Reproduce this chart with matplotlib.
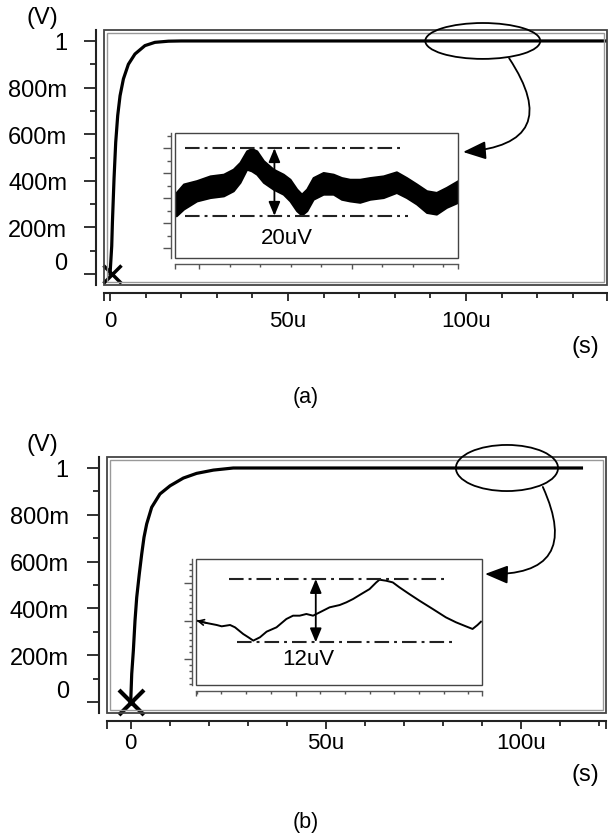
import matplotlib
matplotlib.use('Agg')
import matplotlib.pyplot as plt
from matplotlib.patches import Ellipse, Rectangle
from matplotlib.ticker import FixedLocator, MultipleLocator

plt.rcParams['font.family'] = ['Liberation Sans', 'DejaVu Sans']

W, H = 608, 837

# step response (a): time in us, output in V
t_a = [0, 0.47, 0.66, 1.12, 1.59, 2.15, 2.81, 3.75, 5.15, 7.0, 9.8, 12.6, 16.4, 20, 140]
v_a = [0, 0.12, 0.22, 0.41, 0.565, 0.68, 0.765, 0.837, 0.90, 0.944, 0.98, 0.994, 0.999, 1.0, 1.0]
start_a = (0.5, 0.0)

# step response (b)
t_b = [0, 0.26, 0.68, 1.1, 1.54, 2.2, 2.82, 3.41, 4.1, 5.38, 7.5, 10.1, 13.5, 16.9, 21.2, 26.3, 115.6]
v_b = [0, 0.12, 0.22, 0.347, 0.447, 0.547, 0.632, 0.704, 0.761, 0.832, 0.889, 0.924, 0.957, 0.977, 0.991, 1.0, 1.0]
start_b = (0.0, 0.0)

yticks_main = [0, 0.2, 0.4, 0.6, 0.8, 1.0]
ylabels_main = ['0', '200m', '400m', '600m', '800m', '1']
xticks_main = [0, 50, 100]
xlabels_main = ['0', '50u', '100u']

# zoomed ripple (a): upper / lower edge of the noisy band, uV
zx_a = [-0.76, -0.52, -0.09, 0.35, 0.79, 1.11, 1.33, 1.55, 1.71, 1.88, 2.10, 2.42, 2.75, 2.97,
        3.19, 3.35, 3.52, 3.73, 4.06, 4.39, 4.66, 4.93, 5.26, 5.59, 6.03, 6.46, 6.79, 7.12,
        7.45, 7.77, 8.10, 8.48]
zhi_a = [6.9, 9.4, 10.4, 11.8, 12.3, 13.8, 15.8, 19.2, 19.9, 19.2, 16.3, 13.8, 12.3, 10.8,
         7.9, 6.4, 7.9, 11.3, 12.8, 12.3, 11.3, 10.8, 10.8, 11.3, 11.8, 13.0, 11.3, 9.4,
         7.4, 6.9, 8.4, 10.4]
zlo_a = [0.0, 2.0, 4.4, 5.4, 5.9, 7.4, 9.9, 13.8, 13.3, 12.3, 9.9, 7.9, 6.4, 4.4,
         1.5, 0.2, 1.5, 4.9, 6.4, 6.4, 4.9, 4.4, 4.0, 4.9, 5.4, 6.9, 5.4, 3.5,
         0.99, 0.5, 2.5, 4.0]
ripple_a = 20

# zoomed ripple (b), uV
zx_b = [0, 0.40, 0.81, 1.01, 1.35, 1.55, 1.88, 2.09, 2.29, 2.56, 2.83, 3.23, 3.63, 3.90,
        4.17, 4.44, 4.71, 4.98, 5.38, 5.79, 6.06, 6.33, 6.66, 7.0, 7.27, 7.40, 7.67, 7.94,
        8.21, 8.61, 9.02, 9.56, 10.09, 10.50, 10.90, 11.17, 11.37, 11.51]
zv_b = [4.1, 3.66, 3.28, 3.03, 3.28, 2.84, 1.58, 0.95, 0.32, 0.95, 2.02, 2.84, 4.42, 5.05,
        5.05, 5.37, 5.05, 5.68, 6.63, 7.07, 7.58, 8.21, 9.15, 10.1, 11.36, 11.87, 11.68, 11.36,
        10.42, 9.15, 7.89, 6.31, 4.73, 3.79, 3.03, 2.53, 3.28, 3.91]
ripple_b = 12

fig = plt.figure(figsize=(W / 100, H / 100), dpi=100)


def px_box(l, t, r, b):
    return [l / W, 1 - b / H, (r - l) / W, (b - t) / H]


def frame(ax, box, lw_out, lw_in, gap_px):
    ax.add_patch(Rectangle((0, 0), 1, 1, transform=ax.transAxes, fill=False,
                           lw=lw_out, ec='#444', clip_on=False, zorder=4))
    if lw_in:
        dx = gap_px / (box[2] * W)
        dy = gap_px / (box[3] * H)
        ax.add_patch(Rectangle((dx, dy), 1 - 2 * dx, 1 - 2 * dy, transform=ax.transAxes,
                               fill=False, lw=lw_in, ec='#999', clip_on=False, zorder=4))


def main_axes(box, xlim, xpad, ypad):
    ax = fig.add_axes(box)
    ax.set_xlim(*xlim)
    ax.set_ylim(-0.047, 1.047)
    ax.spines['top'].set_visible(False)
    ax.spines['right'].set_visible(False)
    for s in ('left', 'bottom'):
        ax.spines[s].set_position(('outward', 6))
        ax.spines[s].set_linewidth(1.5)
        ax.spines[s].set_color('#222')
    frame(ax, box, 1.3, 1.0, 3)
    ax.yaxis.set_major_locator(FixedLocator(yticks_main))
    ax.set_yticklabels(ylabels_main)
    ax.yaxis.set_minor_locator(MultipleLocator(0.1))
    ax.set_xticks([xlim[0]] + xticks_main + [xlim[1]])
    ax.set_xticklabels([''] + xlabels_main + [''])
    ax.xaxis.set_minor_locator(MultipleLocator(10))
    ax.tick_params(axis='y', which='major', direction='out', length=8.5, width=1.3,
                   pad=ypad, labelsize=17, color='#222')
    ax.tick_params(axis='y', which='minor', direction='out', length=4.5, width=1.3, color='#222')
    ax.tick_params(axis='x', which='major', direction='out', length=6, width=1.3,
                   pad=xpad, labelsize=16, color='#222')
    ax.tick_params(axis='x', which='minor', direction='out', length=3.5, width=1.3, color='#222')
    ax.get_yticklabels()[0].set_va('bottom')
    return ax


def inset_axes(box, xlim, ylim, left_gap, bottom_gap):
    ins = fig.add_axes(box)
    ins.set_xlim(*xlim)
    ins.set_ylim(*ylim)
    ins.spines['top'].set_visible(False)
    ins.spines['right'].set_visible(False)
    ins.spines['left'].set_position(('outward', left_gap))
    ins.spines['bottom'].set_position(('outward', bottom_gap))
    for s in ('left', 'bottom'):
        ins.spines[s].set_linewidth(1.0)
        ins.spines[s].set_color('#555')
    frame(ins, box, 1.0, 0, 0)
    ins.tick_params(which='both', direction='out', width=1.0, color='#555',
                    labelleft=False, labelbottom=False)
    return ins


# ---------------- (a) ----------------
box_a = px_box(104, 31, 607, 286)
ax_a = main_axes(box_a, (-1.7, 139.6), 6, 12)
ax_a.plot(t_a, v_a, color='k', lw=2.3, solid_joinstyle='round')
ax_a.plot(*start_a, marker='x', ms=13, mew=2.5, color='k', clip_on=False)
ax_a.add_patch(Ellipse((104.7, v_a[-1]), 32.3, 0.154, fill=False, lw=1.3, ec='k',
                       clip_on=False, zorder=5))

ins_a = inset_axes(px_box(175, 134, 458, 259), (-0.8, 8.48), (-12.5, 24.5), 2.9, 4.3)
ins_a.fill_between(zx_a, zlo_a, zhi_a, color='k', lw=1.5, ec='k')
ins_a.plot([-0.47, 6.74], [ripple_a, ripple_a], color='#222', lw=1.5, ls=(0, (7, 2.4, 1.4, 2.4)))
ins_a.plot([-0.47, 6.85], [0, 0], color='#222', lw=1.5, ls=(0, (7, 2.4, 1.4, 2.4)))
ins_a.annotate('', xy=(2.46, ripple_a), xytext=(2.46, 0),
               arrowprops=dict(arrowstyle='<|-|>,head_length=0.6,head_width=0.25',
                               lw=1.3, color='k', mutation_scale=14, shrinkA=0, shrinkB=0))
ins_a.text(2.86, -6.4, f'{ripple_a}uV', ha='center', va='center', fontsize=16)
ins_a.set_xticks([-0.8, 0, 5, 8.48])
ins_a.xaxis.set_minor_locator(FixedLocator([1, 2, 3, 4, 6, 7, 8]))
ins_a.yaxis.set_major_locator(MultipleLocator(7.4, offset=5.2))
ins_a.yaxis.set_minor_locator(MultipleLocator(3.7, offset=1.5))
ins_a.tick_params(axis='y', which='major', length=5.5)
ins_a.tick_params(axis='y', which='minor', length=3)
ins_a.tick_params(axis='x', which='major', length=3.5)
ins_a.tick_params(axis='x', which='minor', length=2)

ax_a.annotate('', xy=(1.018, 0.848), xycoords=ins_a.transAxes, xytext=(112.1, 0.926),
              textcoords='data',
              arrowprops=dict(arrowstyle='-|>,head_length=0.7,head_width=0.28', lw=1.3,
                              color='k', mutation_scale=20, shrinkA=0, shrinkB=0,
                              connectionstyle='arc3,rad=-0.85'))

fig.text(42 / W, 1 - 18 / H, '(V)', ha='center', va='center', fontsize=17)
fig.text(585 / W, 1 - 347.5 / H, '(s)', ha='center', va='center', fontsize=17)
fig.text(306 / W, 1 - 397 / H, '(a)', ha='center', va='center', fontsize=15.5)

# ---------------- (b) ----------------
box_b = px_box(107, 458, 606, 714)
ax_b = main_axes(box_b, (-6.08, 121.9), 1.5, 13)
ax_b.plot(t_b, v_b, color='k', lw=2.3, solid_joinstyle='round')
ax_b.plot(*start_b, marker='x', ms=18, mew=3, color='k', clip_on=False)
ax_b.add_patch(Ellipse((96.5, v_b[-1]), 26.2, 0.197, fill=False, lw=1.3, ec='k',
                       clip_on=False, zorder=5))

ins_b = inset_axes(px_box(196, 560, 481.7, 686), (-0.03, 11.54), (-8.1, 15.8), 3.1, 4.1)
ins_b.plot(zx_b, zv_b, color='k', lw=1.4)
ins_b.annotate('', xy=(zx_b[0], zv_b[0]), xytext=(zx_b[1], zv_b[1]),
               arrowprops=dict(arrowstyle='->', lw=1.2, color='k', shrinkA=0, shrinkB=0))
ins_b.plot([1.32, 10.23], [ripple_b, ripple_b], color='#222', lw=1.5, ls=(0, (7, 2.4, 1.4, 2.4)))
ins_b.plot([1.64, 10.5], [0, 0], color='#222', lw=1.5, ls=(0, (7, 2.4, 1.4, 2.4)))
ins_b.annotate('', xy=(4.82, ripple_b), xytext=(4.82, 0),
               arrowprops=dict(arrowstyle='<|-|>,head_length=0.6,head_width=0.25',
                               lw=1.3, color='k', mutation_scale=14, shrinkA=0, shrinkB=0))
ins_b.text(4.51, -3.16, f'{ripple_b}uV', ha='center', va='center', fontsize=16)
ins_b.set_xticks([-0.03, 4, 11.54])
ins_b.xaxis.set_minor_locator(FixedLocator([0, 1, 2, 3, 5, 6, 7, 8, 9, 10, 11]))
ins_b.yaxis.set_major_locator(MultipleLocator(7.2, offset=4.1))
ins_b.yaxis.set_minor_locator(MultipleLocator(1.2, offset=0.5))
ins_b.tick_params(axis='y', which='major', length=5.5)
ins_b.tick_params(axis='y', which='minor', length=2.5)
ins_b.tick_params(axis='x', which='major', length=3.5)
ins_b.tick_params(axis='x', which='minor', length=2)

ax_b.annotate('', xy=(1.0116, 0.881), xycoords=ins_b.transAxes, xytext=(105.7, 0.919),
              textcoords='data',
              arrowprops=dict(arrowstyle='-|>,head_length=0.7,head_width=0.28', lw=1.3,
                              color='k', mutation_scale=20, shrinkA=0, shrinkB=0,
                              connectionstyle='arc3,rad=-0.8'))

fig.text(42 / W, 1 - 445 / H, '(V)', ha='center', va='center', fontsize=17)
fig.text(585 / W, 1 - 775 / H, '(s)', ha='center', va='center', fontsize=17)
fig.text(306 / W, 1 - 823 / H, '(b)', ha='center', va='center', fontsize=15.5)

fig.savefig('out.png', dpi=100)
